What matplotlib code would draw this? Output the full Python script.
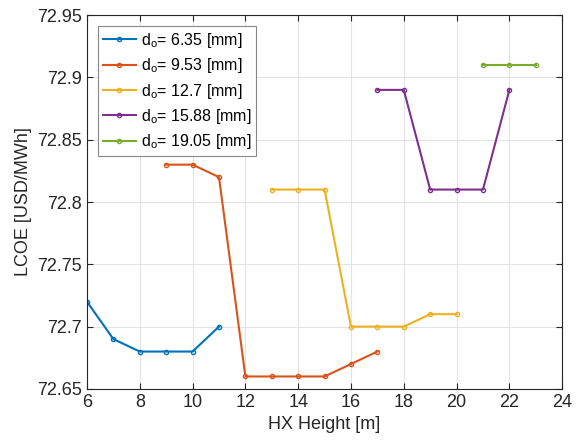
import matplotlib
matplotlib.use("Agg")
import matplotlib.pyplot as plt

plt.rcParams['font.family'] = ['Liberation Sans', 'DejaVu Sans']
plt.rcParams['mathtext.fontset'] = 'custom'
plt.rcParams['mathtext.rm'] = 'Liberation Sans'

# Dane
x_635 = [6, 7, 8, 9, 10, 11]
y_635 = [72.72, 72.69, 72.68, 72.68, 72.68, 72.70]
x_953 = [9, 10, 11, 12, 13, 14, 15, 16, 17]
y_953 = [72.83, 72.83, 72.82, 72.66, 72.66, 72.66, 72.66, 72.67, 72.68]
x_127 = [13, 14, 15, 16, 17, 18, 19, 20]
y_127 = [72.81, 72.81, 72.81, 72.70, 72.70, 72.70, 72.71, 72.71]
x_1588 = [17, 18, 19, 20, 21, 22]
y_1588 = [72.89, 72.89, 72.81, 72.81, 72.81, 72.89]
x_1905 = [21, 22, 23]
y_1905 = [72.91, 72.91, 72.91]

labels = ['6.35', '9.53', '12.7', '15.88', '19.05']
colors = ['#0072BD', '#D95319', '#EDB120', '#7E2F8E', '#77AC30']
series = [(x_635, y_635), (x_953, y_953), (x_127, y_127), (x_1588, y_1588), (x_1905, y_1905)]

fig = plt.figure(figsize=(5.76, 4.45), dpi=100)
ax = fig.add_axes([0.151, 0.126, 0.825, 0.840])

for (xs, ys), lab, c in zip(series, labels, colors):
    ax.plot(xs, ys, '-o', color=c, lw=1.5, ms=3, mfc='none', mew=1,
            label=r'd$_\mathregular{o}$= ' + lab + ' [mm]')

ax.set_xlim(6, 24)
ax.set_ylim(72.65, 72.95)
ax.set_xticks(range(6, 25, 2))
ax.set_yticks([72.65, 72.7, 72.75, 72.8, 72.85, 72.9, 72.95])
ax.set_yticklabels(['72.65', '72.7', '72.75', '72.8', '72.85', '72.9', '72.95'])
ax.grid(True, color='#e3e3e3', lw=0.8)
ax.set_axisbelow(True)
ax.tick_params(direction='in', top=True, right=True, labelsize=13, colors='#262626', length=4)
for s in ax.spines.values():
    s.set_color('#262626')
ax.set_xlabel('HX Height [m]', fontsize=13, color='#262626')
ax.set_ylabel('LCOE [USD/MWh]', fontsize=13, color='#262626')

leg = ax.legend(loc='upper left', bbox_to_anchor=(0.023, 0.971), borderaxespad=0,
                fontsize=11.5, fancybox=False, edgecolor='#888888', framealpha=1,
                handlelength=2.1, handletextpad=0.3, borderpad=0.3, labelspacing=0.4)
leg.get_frame().set_linewidth(0.8)

fig.savefig('out.png', dpi=100)
